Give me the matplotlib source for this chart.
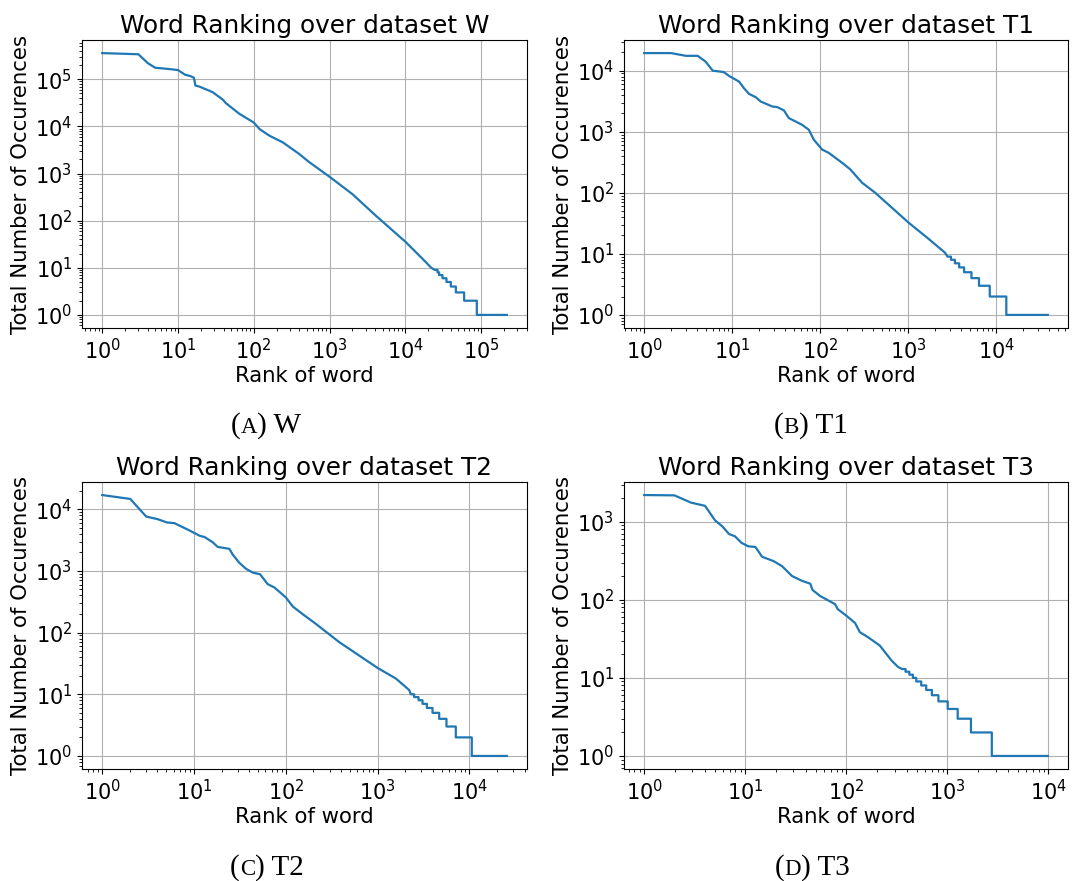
import matplotlib
matplotlib.use("Agg")
import matplotlib.pyplot as plt
from matplotlib.ticker import LogLocator, NullFormatter
import numpy as np

# ---- Word rank / frequency data (head of each curve, then integer-count tail) ----
# Dataset W
w_head_rank = [1, 3.0, 4.0, 5.0, 7.7, 10, 12.4, 14.6, 16.2, 17, 19.2, 26, 28.8, 39, 43,
               64.6, 100, 119, 161, 241, 398, 540, 1000, 2013, 4090, 10000, 16860, 22000]
w_head_count = [3.6e5, 3.4e5, 2.2e5, 1.76e5, 1.65e5, 1.57e5, 1.25e5, 1.17e5, 1.08e5, 7.35e4,
                7.0e4, 5.7e4, 5.3e4, 3.7e4, 3.1e4, 1.85e4, 1.21e4, 8800, 6350, 4600, 2600,
                1740, 855, 363, 127, 35.8, 15.5, 10]
w_tail_count = [9, 8, 7, 6, 5, 4, 3, 2, 1]
w_tail_first_rank = [24500, 26600, 27900, 30900, 34900, 39800, 46400, 59700, 87700]
w_last_rank = 218000

# Dataset T1
t1_head_rank = [1, 2.02, 2.98, 4.05, 5.0, 6, 8, 9.2, 12, 13.6, 15.5, 18.5, 21, 28.5, 32.5,
                38.7, 44, 52, 62, 74, 84.5, 105, 125, 177, 219, 297, 421, 1000, 1690, 2600]
t1_head_count = [19400, 19400, 17500, 17500, 14000, 10000, 9500, 8200, 6600, 5150, 4170,
                 3680, 3130, 2590, 2530, 2230, 1670, 1480, 1300, 1080, 740, 510, 450, 310,
                 242, 147, 100, 32.7, 17.7, 10.5]
t1_tail_count = [9, 8, 7, 6, 5, 4, 3, 2, 1]
t1_tail_first_rank = [2790, 3050, 3380, 3780, 4300, 5210, 6350, 8410, 12970]
t1_last_rank = 38400

# Dataset T2
t2_head_rank = [1, 2.02, 3.01, 4.03, 5.05, 6.1, 8.9, 11.5, 13, 16, 18.1, 24.3, 26.4, 31.2,
                36.9, 43.6, 52.4, 63.4, 75, 100, 119, 152, 213, 382, 1000, 1580, 2208]
t2_head_count = [17000, 14700, 7620, 6900, 6110, 5960, 4540, 3720, 3550, 2910, 2450, 2280,
                 1840, 1350, 1080, 940, 883, 611, 540, 372, 265, 200, 138, 70, 26.7, 18, 11.7]
t2_tail_count = [10, 9, 8, 7, 6, 5, 4, 3, 2, 1]
t2_tail_first_rank = [2300, 2500, 2790, 3080, 3440, 3960, 4680, 5620, 7100, 10600]
t2_last_rank = 25500

# Dataset T3
t3_head_rank = [1, 1.99, 2.9, 4.0, 5.03, 5.94, 6.9, 7.9, 9.2, 10.7, 12.6, 14.7, 19.1, 23.1,
                29, 36.4, 44, 46.3, 55, 77.4, 82.2, 100, 122, 136, 164, 214, 279, 325]
t3_head_count = [2200, 2180, 1760, 1600, 1040, 873, 697, 652, 536, 485, 476, 356, 313, 270,
                 202, 175, 161, 134, 112, 88, 76, 62.7, 50.5, 38.5, 33.2, 26, 16.8, 13.8]
t3_tail_count = [13, 12, 11, 10, 9, 8, 7, 6, 5, 4, 3, 2, 1]
t3_tail_first_rank = [355, 385, 420, 456, 492, 551, 617, 702, 815, 1007, 1264, 1710, 2750]
t3_last_rank = 9850

titles = ["Word Ranking over dataset W", "Word Ranking over dataset T1",
          "Word Ranking over dataset T2", "Word Ranking over dataset T3"]
caption_letters = ["A", "B", "C", "D"]
caption_names = ["W", "T1", "T2", "T3"]


def staircase(head_rank, head_count, tail_count, tail_first, last_rank):
    """Join the smooth head with the flat runs of equal counts in the tail."""
    ranks = list(head_rank)
    counts = list(head_count)
    ends = list(tail_first[1:]) + [last_rank]
    for c, s, e in zip(tail_count, tail_first, ends):
        ranks += [s, e]
        counts += [c, c]
    return ranks, counts


datasets = [
    staircase(w_head_rank, w_head_count, w_tail_count, w_tail_first_rank, w_last_rank),
    staircase(t1_head_rank, t1_head_count, t1_tail_count, t1_tail_first_rank, t1_last_rank),
    staircase(t2_head_rank, t2_head_count, t2_tail_count, t2_tail_first_rank, t2_last_rank),
    staircase(t3_head_rank, t3_head_count, t3_tail_count, t3_tail_first_rank, t3_last_rank),
]

W, H = 1075, 881
fig = plt.figure(figsize=(W / 100, H / 100), dpi=100)

# axes boxes in pixels: left, top, right, bottom
boxes = [(82, 40, 527, 328), (624, 40, 1068, 328),
         (82, 482, 527, 769), (624, 482, 1068, 769)]

for (l, t, r, b), (ranks, counts), title in zip(boxes, datasets, titles):
    ax = fig.add_axes([l / W, 1 - b / H, (r - l) / W, (b - t) / H])
    ax.loglog(ranks, counts, color="#1f77b4", lw=1.6)
    ax.grid(True, which="major", color="#b0b0b0", lw=0.8)
    ax.set_title(title, fontsize=17.8, pad=5)
    ax.set_xlabel("Rank of word", fontsize=15.3, labelpad=2)
    ax.set_ylabel("Total Number of Occurences", fontsize=15.3, labelpad=3)
    ax.tick_params(axis="both", which="major", labelsize=15)
    for axis in (ax.xaxis, ax.yaxis):
        axis.set_major_locator(LogLocator(base=10, numticks=30))
        axis.set_minor_locator(LogLocator(base=10, subs=np.arange(2, 10), numticks=300))
        axis.set_minor_formatter(NullFormatter())

# sub-figure captions: "(A) W" with a small-capital letter
renderer = fig.canvas.get_renderer()
cap_centers = [(266, 433), (811, 433), (267, 875), (812, 875)]
serif = ["Liberation Serif", "DejaVu Serif"]
for (xc, yb), letter, name in zip(cap_centers, caption_letters, caption_names):
    parts = [("(", 21), (letter, 16.5), (") " + name, 21)]
    texts = [fig.text(0, 1 - yb / H, s, fontsize=fs, family=serif, va="baseline")
             for s, fs in parts]
    widths = [t.get_window_extent(renderer).width for t in texts]
    x = xc - sum(widths) / 2
    for t, w in zip(texts, widths):
        t.set_x(x / W)
        x += w

fig.savefig("out.png", dpi=100)
